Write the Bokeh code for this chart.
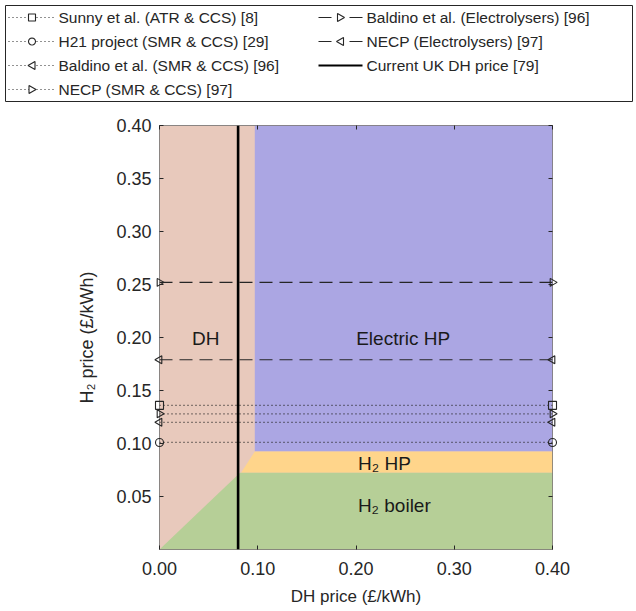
import math
from bokeh.plotting import figure
from bokeh.models import (LinearAxis, Range1d, FixedTicker, Label,
                          NumeralTickFormatter)
from bokeh.core.properties import value
from bokeh.embed import file_html
from bokeh.resources import INLINE

# ---------------- data ----------------
dh_limits = [0.0, 0.4]                      # DH price axis extent (£/kWh)
h2_limits = [0.0, 0.4]                      # H2 price axis extent (£/kWh)
uk_dh_price = 0.08                          # Current UK DH price [79]
uk_dh_label = "Current UK DH price [79]"

series_labels = ["Sunny et al. (ATR & CCS) [8]",
                 "H21 project (SMR & CCS) [29]",
                 "Baldino et al. (SMR & CCS) [96]",
                 "NECP (SMR & CCS) [97]",
                 "Baldino et al. (Electrolysers) [96]",
                 "NECP (Electrolysers) [97]"]
series_h2_price = [0.136, 0.101, 0.120, 0.128, 0.252, 0.179]
series_marker = ["square", "circle", "triangle", "triangle", "triangle", "triangle"]
series_angle = [0.0, 0.0, math.pi / 2, -math.pi / 2, -math.pi / 2, math.pi / 2]
series_shape = ["square", "circle", "left", "right", "right", "left"]
series_dash = ["1 3", "1 3", "1 3", "1 3", "13 7", "13 7"]
series_legend_dash = ["1 3", "1 3", "1 3", "1 3", "13 18", "13 18"]

# preferred-technology regions (polygons in price space)
region_names = ["DH", "Electric HP", "H₂ HP", "H₂ boiler"]
region_x = [[0.0, 0.4, 0.4, 0.0],
            [0.097, 0.4, 0.4, 0.097],
            [0.083, 0.4, 0.4, 0.097],
            [0.0, 0.4, 0.4, 0.082]]
region_y = [[0.0, 0.0, 0.4, 0.4],
            [0.0925, 0.0925, 0.4, 0.4],
            [0.0725, 0.0725, 0.0925, 0.0925],
            [0.0, 0.0, 0.0725, 0.0725]]
region_colors = ["#E8C9BC", "#ABA6E3", "#FFD58B", "#B6CF97"]
region_label_x = [0.047, 0.248, 0.229, 0.239]
region_label_y = [0.199, 0.199, 0.081, 0.0415]

x_ticks = [0.0, 0.1, 0.2, 0.3, 0.4]
y_ticks = [0.05, 0.10, 0.15, 0.20, 0.25, 0.30, 0.35, 0.40]

FONT = "Liberation Sans"
TXT = "#262626"

# frame geometry in page pixels
W, H = 636, 611
FL, FR, FT, FB = 159, 552, 125, 549

p = figure(width=W, height=H,
           x_range=Range1d(*dh_limits), y_range=Range1d(*h2_limits),
           min_border_left=FL, min_border_right=W - FR,
           min_border_top=FT, min_border_bottom=H - FB,
           output_backend="svg", toolbar_location=None)
p.grid.visible = False
p.background_fill_color = "white"
p.border_fill_color = "white"
p.outline_line_color = TXT
p.outline_line_alpha = 0.35

for xs, ys, c in zip(region_x, region_y, region_colors):
    p.patch(xs, ys, fill_color=c, line_color=None)

for name, lx, ly in zip(region_names, region_label_x, region_label_y):
    p.add_layout(Label(x=lx, y=ly, text=name, text_align="center",
                       text_baseline="middle", text_font=FONT,
                       text_font_size="19px", text_color="#1a1a1a"))

for lab, v, mk, ang, dash in zip(series_labels, series_h2_price, series_marker,
                                  series_angle, series_dash):
    p.line(x=dh_limits, y=[v, v], line_color=TXT, line_width=1.2,
           line_dash=dash)
    p.scatter(x=dh_limits, y=[v, v], marker=mk, angle=ang, size=8,
              line_color=TXT, line_width=1.1, fill_color=None,
              level="overlay")

p.line(x=[uk_dh_price, uk_dh_price], y=h2_limits, line_color="black",
       line_width=2.6)

# ---------------- legend (drawn above the frame, pixel layout) ----------------
def px2x(px):
    return dh_limits[0] + (px - FL) / (FR - FL) * (dh_limits[1] - dh_limits[0])

def py2y(py):
    return h2_limits[0] + (FB - py) / (FB - FT) * (h2_limits[1] - h2_limits[0])

# legend marker outlines, pixel offsets from the marker centre (y down)
r = 3.5
marker_px = {
    "square": [(-r, -r), (r, -r), (r, r), (-r, r)],
    "circle": [(r * math.cos(t * math.pi / 8), r * math.sin(t * math.pi / 8))
               for t in range(16)],
    "left": [(-4, 0), (3, -4), (3, 4)],
    "right": [(4, 0), (-3, -4), (-3, 4)],
}

p.quad(left=px2x(5), right=px2x(632), top=py2y(5), bottom=py2y(101),
       fill_color="white", line_color=TXT, line_width=1, level="overlay")

row_y = [17, 41, 65, 89]
col_line = [(8, 55), (318, 362)]
col_text = [58, 366]
entries = list(zip(series_labels, series_shape, series_legend_dash))
entries.append((uk_dh_label, None, "solid"))
for i, (lab, shp, dash) in enumerate(entries):
    col = 0 if i < 4 else 1
    ry_px = row_y[i if i < 4 else i - 4]
    ry = py2y(ry_px)
    x0_px, x1_px = col_line[col]
    if shp is None:
        p.line(x=[px2x(x0_px), px2x(x1_px)], y=[ry, ry], line_color="black",
               line_width=2, level="overlay")
    else:
        p.line(x=[px2x(x0_px), px2x(x1_px)], y=[ry, ry], line_color=TXT,
               line_width=1.2, line_dash=dash, level="overlay")
        cx = (x0_px + x1_px) / 2
        pts = marker_px[shp]
        p.patch(x=[px2x(cx + dx) for dx, dy in pts],
                y=[py2y(ry_px + dy) for dx, dy in pts],
                fill_color="white", line_color=TXT, line_width=1.1,
                level="overlay")
    p.text(x=[px2x(col_text[col])], y=[ry], text=[lab], text_font=value(FONT),
           text_font_size="15.5px", text_baseline="middle", text_color=TXT,
           level="overlay")

# ---------------- axes ----------------
def style_axis(ax):
    ax.axis_line_color = TXT
    ax.axis_line_alpha = 0.35
    ax.major_tick_line_color = TXT
    ax.major_tick_in = 4
    ax.major_tick_out = 0
    ax.minor_tick_line_color = None
    ax.major_label_text_font = FONT
    ax.major_label_text_font_size = "18px"
    ax.major_label_text_color = TXT
    ax.axis_label_text_font = FONT
    ax.axis_label_text_font_size = "18px"
    ax.axis_label_text_font_style = "normal"
    ax.axis_label_text_color = TXT

p.xaxis.ticker = FixedTicker(ticks=x_ticks)
p.yaxis.ticker = FixedTicker(ticks=y_ticks)
p.xaxis.formatter = NumeralTickFormatter(format="0.00")
p.yaxis.formatter = NumeralTickFormatter(format="0.00")
p.xaxis.axis_label = "DH price (£/kWh)"
p.yaxis.axis_label = "H₂ price (£/kWh)"
style_axis(p.xaxis[0])
style_axis(p.yaxis[0])
p.xaxis.axis_label_text_font_size = "17px"
p.xaxis.major_label_standoff = 12
p.yaxis.major_label_standoff = 8
p.xaxis.axis_label_standoff = 9
p.yaxis.axis_label_standoff = 16

ax_r = LinearAxis(ticker=FixedTicker(ticks=y_ticks),
                  major_label_overrides={t: "" for t in y_ticks})
style_axis(ax_r)
p.add_layout(ax_r, "right")
ax_t = LinearAxis(ticker=FixedTicker(ticks=x_ticks),
                  major_label_overrides={t: "" for t in x_ticks})
style_axis(ax_t)
p.add_layout(ax_t, "above")

open("out.html", "w").write(file_html(p, INLINE))
